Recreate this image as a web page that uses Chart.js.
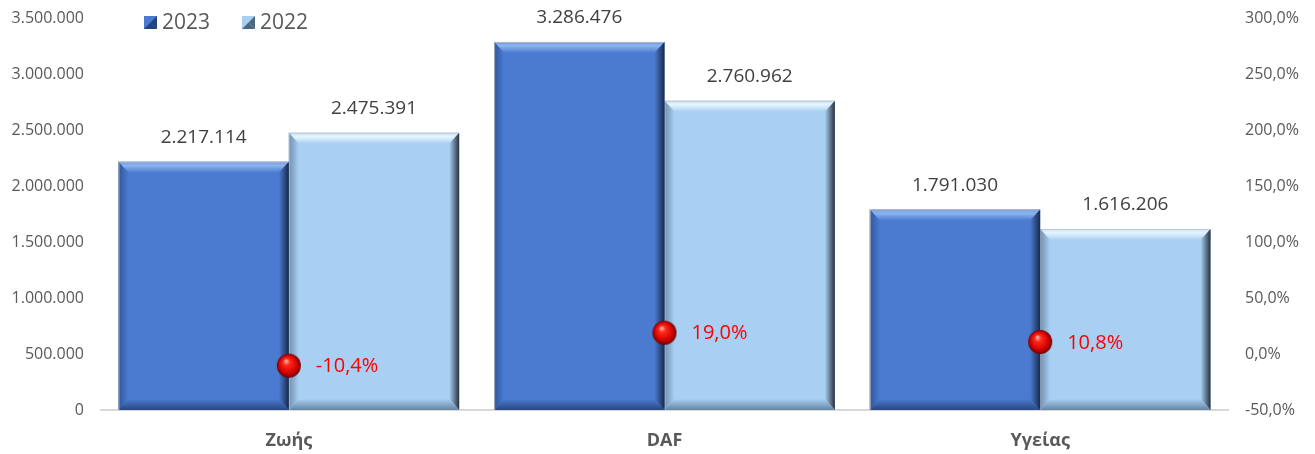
<!DOCTYPE html>
<html>
<head>
<meta charset="utf-8">
<script src="https://cdn.jsdelivr.net/npm/chart.js@4.4.1/dist/chart.umd.min.js"></script>
<style>
html,body{margin:0;padding:0;background:#fff;}
#wrap{width:1315px;height:454px;}
</style>
</head>
<body>
<div id="wrap"><canvas id="c" width="1315" height="454"></canvas></div>
<script>
const categories = ['Ζωής', 'DAF', 'Υγείας'];
const seriesNames = ['2023', '2022'];
const values2023 = [2217114, 3286476, 1791030];
const values2022 = [2475391, 2760962, 1616206];
const changePct = [-10.4, 19.0, 10.8];

const FONT = "'Open Sans', 'DejaVu Sans', sans-serif";
const fmtNum = n => String(n).replace(/\B(?=(\d{3})+(?!\d))/g, '.');
const fmtPct = v => v.toFixed(1).replace('.', ',') + '%';

function sphere(r) {
  const c = document.createElement('canvas');
  c.width = c.height = r * 2 + 2;
  const g = c.getContext('2d');
  const cx = r + 1, cy = r + 1;
  const grad = g.createRadialGradient(cx - r * 0.25, cy - r * 0.4, r * 0.05, cx, cy, r);
  grad.addColorStop(0, '#ffb0a8');
  grad.addColorStop(0.25, '#ff2a1a');
  grad.addColorStop(0.75, '#d00000');
  grad.addColorStop(1, '#6a0000');
  g.fillStyle = grad;
  g.beginPath(); g.arc(cx, cy, r, 0, Math.PI * 2); g.fill();
  return c;
}

const bevelStyles = [
  { base: '#4A7BD0', top: ['#6F98DE', '#8DB4F0', '#4A7BD0'], left: '#30569C', right: '#18294A', bottom: '#2A4782' },
  { base: '#A9CFF2', top: ['#C6E2F8', '#E4F5FF', '#A9CFF2'], left: '#7190AE', right: '#27313C', bottom: '#6584A2' }
];

function grad(ctx, x0, y0, x1, y1, a, b) {
  const g = ctx.createLinearGradient(x0, y0, x1, y1);
  g.addColorStop(0, a); g.addColorStop(1, b);
  return g;
}

const bevelPlugin = {
  id: 'bevel',
  afterDatasetDraw(chart, args) {
    const ds = chart.data.datasets[args.index];
    if (ds.type !== 'bar') return;
    const st = bevelStyles[args.index];
    const ctx = chart.ctx;
    args.meta.data.forEach(el => {
      const l = el.x - el.width / 2, r = el.x + el.width / 2, t = el.y, b = el.base;
      const bt = 11, bs = 10;
      ctx.save();
      const g = ctx.createLinearGradient(0, t, 0, t + bt);
      g.addColorStop(0, st.top[0]); g.addColorStop(0.35, st.top[1]); g.addColorStop(1, st.top[2]);
      ctx.fillStyle = g;
      ctx.beginPath(); ctx.moveTo(l, t); ctx.lineTo(r, t); ctx.lineTo(r - bs, t + bt); ctx.lineTo(l + bs, t + bt); ctx.closePath(); ctx.fill();
      ctx.fillStyle = grad(ctx, l, 0, l + bs, 0, st.left, st.base);
      ctx.beginPath(); ctx.moveTo(l, t); ctx.lineTo(l + bs, t + bt); ctx.lineTo(l + bs, b - bt); ctx.lineTo(l, b); ctx.closePath(); ctx.fill();
      ctx.fillStyle = grad(ctx, r, 0, r - bs, 0, st.right, st.base);
      ctx.beginPath(); ctx.moveTo(r, t); ctx.lineTo(r - bs, t + bt); ctx.lineTo(r - bs, b - bt); ctx.lineTo(r, b); ctx.closePath(); ctx.fill();
      ctx.fillStyle = grad(ctx, 0, b, 0, b - bt, st.bottom, st.base);
      ctx.beginPath(); ctx.moveTo(l, b); ctx.lineTo(l + bs, b - bt); ctx.lineTo(r - bs, b - bt); ctx.lineTo(r, b); ctx.closePath(); ctx.fill();
      ctx.strokeStyle = 'rgba(190,190,190,0.8)';
      ctx.lineWidth = 1;
      ctx.beginPath(); ctx.moveTo(l + 0.5, b); ctx.lineTo(l + 0.5, t + 0.5); ctx.lineTo(r - 0.5, t + 0.5); ctx.stroke();
      ctx.restore();
    });
  },
  afterDatasetsDraw(chart) {
    const ctx = chart.ctx;
    ctx.save();
    [0, 1].forEach(i => {
      const meta = chart.getDatasetMeta(i);
      ctx.font = '19px ' + FONT;
      ctx.fillStyle = '#404040';
      ctx.textAlign = 'center';
      ctx.textBaseline = 'middle';
      meta.data.forEach((el, j) => {
        ctx.fillText(fmtNum(chart.data.datasets[i].data[j]), el.x, el.y - 24);
      });
    });
    const lm = chart.getDatasetMeta(2);
    ctx.font = '20px ' + FONT;
    ctx.fillStyle = '#FF0000';
    ctx.textAlign = 'left';
    lm.data.forEach((el, j) => {
      ctx.fillText(fmtPct(chart.data.datasets[2].data[j]), el.x + 27, el.y + 1);
    });
    const items = [{ x: 144, c: '#4A7BD0', d: '#24447E', t: seriesNames[0] }, { x: 242, c: '#A9CFF2', d: '#4F677E', t: seriesNames[1] }];
    items.forEach(it => {
      const y = 16, s = 13;
      ctx.fillStyle = it.c;
      ctx.fillRect(it.x, y, s, s);
      ctx.fillStyle = it.d;
      ctx.beginPath(); ctx.moveTo(it.x + s, y); ctx.lineTo(it.x + s, y + s); ctx.lineTo(it.x + s / 2, y + s / 2); ctx.closePath(); ctx.fill();
      ctx.beginPath(); ctx.moveTo(it.x, y + s); ctx.lineTo(it.x + s, y + s); ctx.lineTo(it.x + s / 2, y + s / 2); ctx.closePath(); ctx.fill();
      ctx.font = '21px ' + FONT;
      ctx.fillStyle = '#595959';
      ctx.textAlign = 'left';
      ctx.textBaseline = 'middle';
      ctx.fillText(it.t, it.x + 18, y + s / 2 + 1);
    });
    ctx.restore();
  }
};

function fixV(width) {
  return s => { s.width = width; s.paddingTop = 0; s.paddingBottom = 0; };
}

new Chart(document.getElementById('c'), {
  data: {
    labels: categories,
    datasets: [
      { type: 'bar', label: seriesNames[0], data: values2023, backgroundColor: '#4A7BD0', yAxisID: 'y', order: 2, categoryPercentage: 0.907, barPercentage: 1.0 },
      { type: 'bar', label: seriesNames[1], data: values2022, backgroundColor: '#A9CFF2', yAxisID: 'y', order: 2, categoryPercentage: 0.907, barPercentage: 1.0 },
      { type: 'line', label: 'Μεταβολή', data: changePct, yAxisID: 'y1', showLine: false, order: 0, pointStyle: sphere(12), pointRadius: 12, pointHoverRadius: 12 }
    ]
  },
  options: {
    responsive: false,
    animation: false,
    events: [],
    layout: { padding: { top: 18, left: 0, right: 0, bottom: 0 } },
    plugins: { legend: { display: false }, tooltip: { enabled: false } },
    scales: {
      x: {
        grid: { display: false },
        border: { display: true, color: '#D9D9D9', width: 2 },
        ticks: { color: '#595959', font: { family: FONT, size: 18, weight: 'bold' }, padding: 12 },
        afterFit(s) { s.height = 44; }
      },
      y: {
        position: 'left', min: 0, max: 3500000,
        grid: { display: false, drawTicks: false },
        border: { display: false },
        ticks: { stepSize: 500000, color: '#595959', font: { family: FONT, size: 16 }, padding: 17, callback: v => fmtNum(v) },
        afterFit: fixV(101)
      },
      y1: {
        position: 'right', min: -50, max: 300,
        grid: { display: false, drawTicks: false },
        border: { display: false },
        ticks: { stepSize: 50, color: '#595959', font: { family: FONT, size: 16 }, padding: 17, callback: v => fmtPct(v) },
        afterFit: fixV(87)
      }
    }
  },
  plugins: [bevelPlugin]
});
</script>
</body>
</html>
